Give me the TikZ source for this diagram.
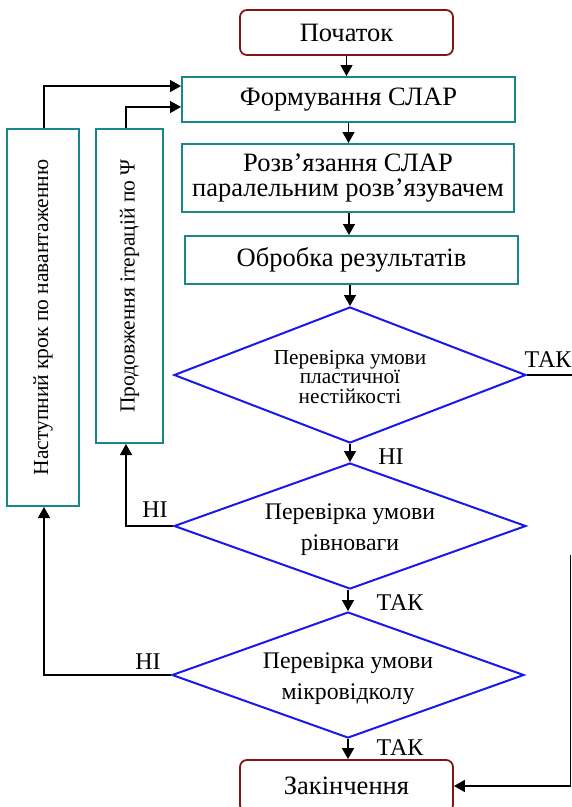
\documentclass[tikz,border=0pt]{standalone}
\usepackage{fontspec}
\setmainfont{Liberation Serif}
\usetikzlibrary{shapes.geometric,arrows.meta,calc}
\definecolor{tealc}{RGB}{25,135,135}
\definecolor{termred}{RGB}{135,20,20}
\definecolor{dblue}{RGB}{25,25,235}
\tikzset{
  procbox/.style={draw=tealc, line width=2pt, fill=white, inner sep=0pt, align=center, font=\fontsize{26.5}{25.5}\selectfont},
  termbox/.style={draw=termred, line width=1.8pt, rounded corners=7pt, fill=white, inner sep=0pt, align=center, font=\fontsize{26.5}{26}\selectfont},
  sidebox/.style={draw=tealc, line width=2pt, fill=white, inner sep=0pt, font=\fontsize{21.5}{24}\selectfont},
  decis/.style={diamond, draw=dblue, line width=2pt, inner sep=0pt},
  dtext/.style={inner sep=0pt, align=center, font=\fontsize{23.8}{31}\selectfont},
  conn/.style={line width=1.5pt, -{Triangle[length=11pt,width=12pt]}},
  plainline/.style={line width=1.5pt},
  lbl/.style={font=\fontsize{24}{26}\selectfont, inner sep=0pt}
}
\begin{document}
\begin{tikzpicture}[x=1pt,y=-1pt]
\useasboundingbox (0,0) rectangle (572,807);
% main column
\node[termbox, minimum width=213pt, minimum height=45pt] (start) at (346.5,32.5) {Початок};
\node[procbox, minimum width=333pt, minimum height=45pt] (form) at (348.5,99.5) {Формування СЛАР};
\node[procbox, minimum width=332pt, minimum height=68pt] (solve) at (348,178) {Розв’язання СЛАР\\паралельним розв’язувачем};
\node[procbox, minimum width=333pt, minimum height=48pt] (proc) at (351.5,260) {Обробка результатів};
\node[decis, minimum width=352pt, minimum height=136pt] (d1) at (350,375) {};
\node[dtext, font=\fontsize{21.3}{19.5}\selectfont] (d1t) at (350,377) {Перевірка умови\\пластичної\\нестійкості};
\node[decis, minimum width=352pt, minimum height=126pt] (d2) at (350,526) {};
\node[dtext] (d2t) at (350,530) {Перевірка умови\\рівноваги};
\node[decis, minimum width=352pt, minimum height=126pt] (d3) at (348,675) {};
\node[dtext] (d3t) at (348,679) {Перевірка умови\\мікровідколу};
\node[termbox, minimum width=213pt, minimum height=52pt] (end) at (346.5,786) {Закінчення};
% side boxes
\node[sidebox, minimum width=72pt, minimum height=377pt] (next) at (43,317.5) {\rotatebox{90}{Наступний крок по навантаженню}};
\node[sidebox, minimum width=67pt, minimum height=314pt] (iter) at (129.5,286) {\rotatebox{90}{Продовження ітерацій по Ψ}};
% main arrows
\draw[conn] (start.south) -- (start.south |- form.north);
\draw[conn] (form.south) -- (form.south |- solve.north);
\draw[conn] ([xshift=1pt]solve.south) -- ([xshift=1pt]solve.south |- proc.north);
\draw[conn] (d1.north |- proc.south) -- (d1.north);
\draw[conn] (d1.south) -- (d2.north);
\draw[conn] (d3.north |- d2.south) -- (d3.north);
\draw[conn] (d3.south) -- (d3.south |- end.north);
% feedback loops
\coordinate (nextup) at (44,86);
\coordinate (iterup) at (126,107);
\draw[conn] ([xshift=1pt]next.north) -- (nextup) -- (nextup -| form.west);
\draw[conn] ([xshift=-3.5pt]iter.north) -- (iterup) -- (iterup -| form.west);
\draw[conn] (d2.west) -| ([xshift=-3.5pt]iter.south);
\draw[conn] (d3.west) -| ([xshift=1pt]next.south);
% yes exit
\coordinate (rend) at (572,375);
\draw[plainline] (d1.east) -- (rend);
\coordinate (rtop) at (570.5,555);
\draw[conn] (rtop) |- (end.east);
% labels
\node[lbl] (l1) at (548,360) {ТАК};
\node[lbl] (l2) at (391,457) {НІ};
\node[lbl] (l3) at (155,510) {НІ};
\node[lbl] (l4) at (400,603) {ТАК};
\node[lbl] (l5) at (148,662) {НІ};
\node[lbl] (l6) at (400,748) {ТАК};
\end{tikzpicture}
\end{document}
